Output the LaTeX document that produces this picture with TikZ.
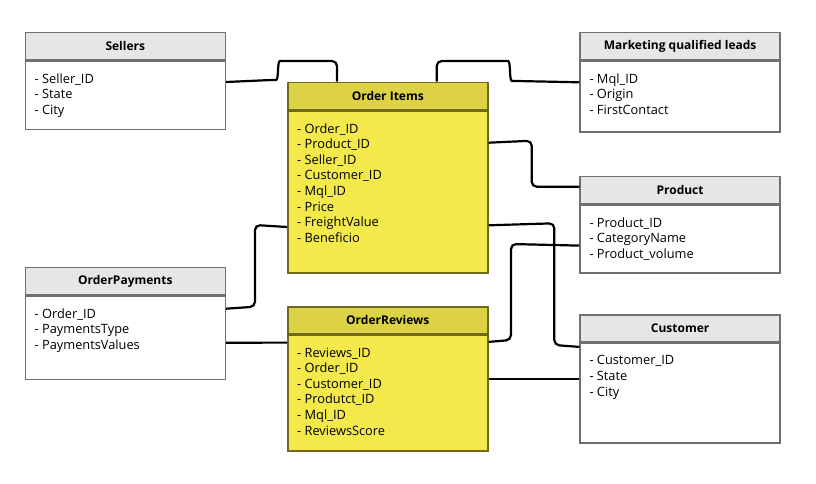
\documentclass[tikz,border=0pt]{standalone}
\usepackage{fontspec}
\setmainfont{Open Sans}
\usetikzlibrary{positioning}
\definecolor{hdrgrey}{HTML}{E6E6E6}
\definecolor{edgegrey}{HTML}{707070}
\definecolor{ybody}{HTML}{F3E94A}
\definecolor{yhead}{HTML}{DDD246}
\definecolor{yedge}{HTML}{6F6A1E}

\begin{document}
\begin{tikzpicture}[x=1pt,y=-1pt,node distance=0pt]
		\tikzstyle{head} = [rectangle, draw=edgegrey, line width=1.6pt, fill=hdrgrey, minimum width=200pt, minimum height=27pt, anchor=north west, inner sep=0pt, font=\fontsize{12}{14}\selectfont\bfseries]
		\tikzstyle{body} = [rectangle, draw=edgegrey, line width=1.6pt, fill=white, minimum width=200pt, inner sep=0pt]
		\tikzstyle{yhead} = [head, draw=yedge, fill=yhead]
		\tikzstyle{ybody} = [body, draw=yedge, fill=ybody]
		\tikzstyle{fields} = [anchor=north west, align=left, inner xsep=10pt, inner ysep=12.8pt, font=\fontsize{12.8}{15.6}\selectfont]
		\tikzstyle{link} = [draw=black, line width=2.2pt, rounded corners=5pt]
		\useasboundingbox (0,0) rectangle (816,483);
		% left column
		\node (sellh) [head] at (24.5,31.7) {Sellers};
		\node (sellb) [body, below=of sellh, minimum height=68.4pt] {};
		\node (sellf) [fields] at (sellb.north west) {- Seller\_ID\\- State\\- City};
		\node (payh) [head] at (24.5,266.7) {OrderPayments};
		\node (payb) [body, below=of payh, minimum height=83.4pt] {};
		\node (payf) [fields] at (payb.north west) {- Order\_ID\\- PaymentsType\\- PaymentsValues};
		% middle column
		\node (itemh) [yhead] at (287,81.7) {Order Items};
		\node (itemb) [ybody, below=of itemh, minimum height=161.7pt] {};
		\node (itemf) [fields] at (itemb.north west) {- Order\_ID\\- Product\_ID\\- Seller\_ID\\- Customer\_ID\\- Mql\_ID\\- Price\\- FreightValue\\- Beneficio};
		\node (revh) [yhead] at (287,306) {OrderReviews};
		\node (revb) [ybody, below=of revh, minimum height=115.6pt] {};
		\node (revf) [fields] at (revb.north west) {- Reviews\_ID\\- Order\_ID\\- Customer\_ID\\- Produtct\_ID\\- Mql\_ID\\- ReviewsScore};
		% right column
		\node (mqlh) [head] at (579.3,31.7) {Marketing qualified leads};
		\node (mqlb) [body, below=of mqlh, minimum height=71pt] {};
		\node (mqlf) [fields] at (mqlb.north west) {- Mql\_ID\\- Origin\\- FirstContact};
		\node (prodh) [head] at (579.3,175.7) {Product};
		\node (prodb) [body, below=of prodh, minimum height=68pt] {};
		\node (prodf) [fields] at (prodb.north west) {- Product\_ID\\- CategoryName\\- Product\_volume};
		\node (custh) [head] at (579.3,314) {Customer};
		\node (custb) [body, below=of custh, minimum height=99.3pt] {};
		\node (custf) [fields] at (custb.north west) {- Customer\_ID\\- State\\- City};
		% connectors
		\draw[link] ([yshift=-21.7pt]sellb.north east) -- (271,80) .. controls (279,80) and (277,61) .. (285,61) -- (337,61) -- ([xshift=50pt]itemh.north west);
		\draw[link] ([xshift=149.7pt]itemh.north west) -- (436.7,61) -- (503,61) .. controls (511,61) and (509,81) .. (517,81) -- ([yshift=-22pt]mqlb.north west);
		\draw[link] ([yshift=-32.4pt]itemb.north east) -- (531.7,140.7) -- (531.7,186.7) -- ([yshift=-11pt]prodh.north west);
		\draw[link] ([yshift=-115pt]itemb.north east) -- (554.3,223.3) -- (554.3,345) -- ([yshift=-4.3pt]custb.north west);
		\draw[link] ([yshift=-41.3pt]prodb.north west) -- (511,244) -- (511,340) -- ([yshift=-7.3pt]revb.north east);
		\draw[link] ([yshift=-44pt]revb.north east) -- ([yshift=-36pt]custb.north west);
		\draw[link] ([yshift=-13.4pt]payb.north east) -- (255,306.7) -- (255,225) -- ([yshift=-116.7pt]itemb.north west);
		\draw[link] ([yshift=-47.4pt]payb.north east) -- ([yshift=-8pt]revb.north west);
	\end{tikzpicture}
\end{document}
